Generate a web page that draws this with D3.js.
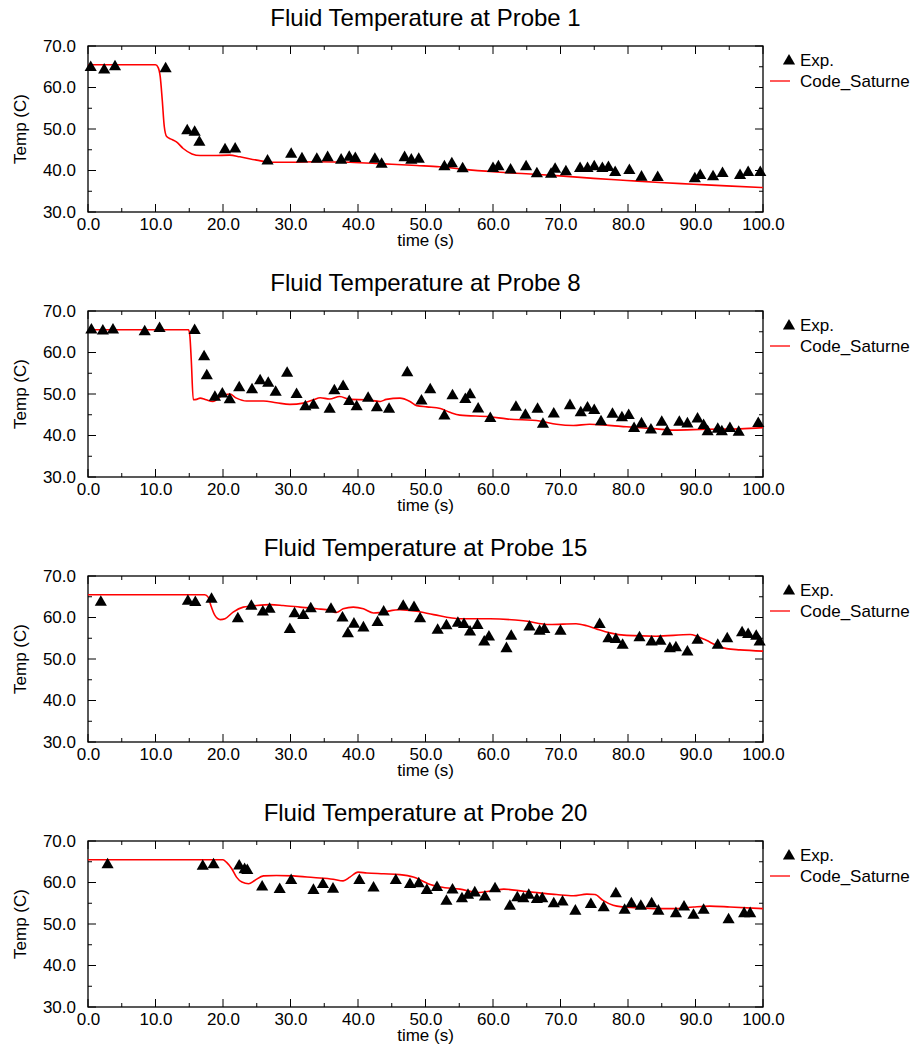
<!DOCTYPE html>
<html><head><meta charset="utf-8">
<script src="https://cdn.jsdelivr.net/npm/d3@7"></script>
<style>body{margin:0;background:#fff}svg{display:block}text{font-family:"Liberation Sans",Arial,sans-serif;fill:#000}</style>
</head><body><svg id="c" width="916" height="1048"></svg>
<script>
const titles = ["Fluid Temperature at Probe 1","Fluid Temperature at Probe 8","Fluid Temperature at Probe 15","Fluid Temperature at Probe 20"];
const xTicks = [0,10,20,30,40,50,60,70,80,90,100];
const yTicks = [30,40,50,60,70];
const legendLabels = ["Exp.","Code_Saturne"];

// Probe 1
const exp1T = [0.4,2.4,4.0,11.5,14.7,15.8,16.5,20.3,21.8,26.6,30.1,31.7,33.9,35.5,37.5,38.7,39.6,42.5,43.5,46.9,47.9,49.0,52.8,53.9,55.5,60.0,60.8,62.6,64.9,66.5,68.6,69.2,70.8,72.9,74.0,75.0,76.2,77.1,78.1,80.2,82.0,84.4,89.9,90.7,92.6,94.0,96.6,97.8,99.6];
const exp1V = [64.8,64.2,65.0,64.5,49.6,49.2,46.8,45.0,45.2,42.3,43.9,42.8,42.7,43.1,42.5,43.2,42.9,42.7,41.5,43.1,42.5,42.7,40.9,41.6,40.4,40.5,40.9,40.1,40.9,39.2,39.1,40.3,39.7,40.5,40.5,40.9,40.5,40.7,39.5,40.0,38.4,38.3,38.0,38.8,38.5,39.3,38.8,39.5,39.5];
const code1T = [0,10.0,10.4,10.7,11.0,11.3,11.65,12.4,13.1,14.1,15.4,16.6,18.6,21.0,22.5,25.0,27.0,29.9,33.9,38.8,43.8,48.7,52.1,55.1,60.0,64.9,69.9,74.9,79.8,84.7,89.7,94.6,100];
const code1V = [65.5,65.5,64.8,62.6,57.0,50.6,48.2,47.5,46.9,45.3,44.0,43.6,43.6,43.7,43.3,42.5,42.0,42.0,42.1,42.0,41.6,41.2,40.9,40.4,39.7,39.2,38.7,38.1,37.6,37.1,36.7,36.3,35.9];

// Probe 8
const exp2T = [0.5,2.2,3.7,8.4,10.6,15.8,17.2,17.6,18.8,19.9,21.0,22.4,24.3,25.5,26.7,27.8,29.5,30.9,32.2,33.4,35.8,36.5,37.8,38.7,39.8,41.5,42.8,44.6,47.3,49.4,50.7,52.8,54.0,55.9,56.6,57.8,59.6,63.4,64.8,66.6,67.4,69.0,71.4,73.0,74.0,75.0,76.0,77.7,79.1,80.1,80.9,82.0,83.4,85.0,85.8,87.6,88.8,90.3,91.2,91.8,93.3,93.9,95.1,96.4,99.3];
const exp2V = [65.4,65.2,65.4,65.0,65.8,65.3,59.0,54.4,49.2,50.0,48.6,51.5,51.0,53.2,52.6,50.4,55.0,49.9,46.9,47.3,46.3,50.8,51.8,48.2,46.9,49.0,46.7,46.3,55.1,48.3,51.0,44.7,49.6,48.7,49.8,46.4,44.1,46.8,44.9,46.3,42.7,45.2,47.2,45.5,46.6,46.0,43.3,45.1,44.3,44.8,41.7,42.8,41.3,43.2,40.9,43.2,42.8,44.0,42.4,40.9,41.5,40.9,41.7,40.8,42.9];
const code2T = [0,14.9,15.1,15.3,15.6,16.1,16.6,17.5,18.5,19.8,21.0,22.0,23.5,26.0,27.9,29.9,31.9,33.4,34.4,35.8,37.3,38.8,41.3,43.3,44.2,46.2,47.7,48.7,50.2,52.2,53.6,55.1,59.6,62.0,66.9,69.4,71.9,74.3,76.8,79.8,84.2,86.7,91.6,96.6,100];
const code2V = [65.5,65.5,63.8,58.2,48.6,48.7,49.0,48.6,48.2,49.5,50.0,49.0,48.3,48.3,47.9,47.5,47.8,48.6,49.1,48.8,49.4,48.7,48.6,48.2,48.7,49.0,48.2,47.2,46.9,46.5,45.6,44.9,44.5,44.0,43.5,42.7,42.4,42.7,42.5,42.1,41.6,41.3,41.5,41.6,41.9];

// Probe 15
const exp3T = [1.9,14.8,15.9,18.3,22.2,24.2,25.9,26.9,29.9,30.6,31.9,33.0,36.0,37.7,38.5,39.4,40.8,42.9,43.8,46.7,48.3,49.2,51.8,53.1,54.8,55.7,56.6,57.7,58.7,59.4,62.0,62.7,65.4,66.9,67.6,70.0,75.8,77.1,78.2,79.2,81.7,83.5,84.8,86.2,87.1,88.8,90.3,93.3,94.7,96.9,97.8,99.0,99.5];
const exp3V = [63.7,63.9,63.6,64.4,59.7,62.7,61.3,62.0,57.1,60.9,60.5,62.1,62.0,59.9,56.1,58.4,57.5,58.8,61.3,62.7,62.4,59.7,56.9,58.0,58.6,58.3,56.5,58.1,54.1,55.3,52.5,55.5,57.7,56.7,57.1,56.7,58.3,54.9,54.7,53.3,55.1,54.1,54.3,52.5,52.7,51.7,54.5,53.3,54.9,56.3,55.9,55.5,54.1];
const code3T = [0,17.3,17.8,18.2,18.8,19.6,20.3,21.5,23.0,25.0,27.0,28.9,31.4,33.9,35.9,36.8,37.8,39.3,40.8,42.3,43.3,46.2,48.7,51.2,55.1,59.6,64.5,68.4,72.3,73.9,75.4,77.3,79.8,84.2,89.2,90.2,91.6,93.1,94.6,96.6,100];
const code3V = [65.5,65.5,64.9,62.9,60.5,59.5,59.7,61.3,62.5,62.9,63.1,62.9,62.5,62.1,61.7,61.2,62.1,62.5,62.1,61.1,61.2,61.9,61.5,60.7,59.7,59.7,59.2,58.3,58.5,58.0,57.2,56.3,55.7,55.5,55.9,55.5,54.5,53.3,52.5,52.2,51.9];

// Probe 20
const exp4T = [2.9,17.0,18.6,22.4,23.2,23.6,25.8,28.4,30.1,33.4,34.8,36.3,40.2,42.3,45.6,47.7,49.0,50.2,51.7,53.1,54.0,55.4,56.3,57.3,58.8,60.3,62.5,63.6,64.5,65.3,66.5,67.3,69.0,70.3,72.2,74.5,76.4,78.2,79.5,80.5,81.9,83.5,84.5,87.1,88.3,89.7,91.2,94.9,97.2,98.1];
const exp4V = [64.3,63.9,64.3,64.0,63.1,62.9,58.9,58.3,60.5,58.1,59.5,58.4,60.5,58.7,60.5,59.5,59.7,58.1,58.8,55.5,58.2,56.1,56.9,57.5,56.5,58.5,54.3,56.3,56.1,56.9,55.9,56.1,54.9,55.3,53.1,54.7,53.9,57.3,53.3,54.9,54.3,54.9,53.1,52.5,54.1,52.1,53.3,51.0,52.5,52.5];
const code4T = [0,20.0,20.5,21.3,22.0,22.8,23.8,24.7,26.0,27.9,30.4,33.4,36.3,37.8,38.8,40.0,41.3,43.8,46.2,48.2,49.4,50.7,52.2,55.1,57.7,60.2,61.6,64.5,66.9,69.4,71.9,73.9,75.1,76.3,77.8,79.3,81.8,84.2,86.7,89.7,92.1,95.1,100];
const code4V = [65.5,65.5,64.9,63.3,61.3,60.1,59.7,60.5,61.6,61.7,61.6,61.2,60.8,60.4,61.3,62.5,62.3,62.1,61.9,61.3,60.5,59.5,58.9,58.4,57.6,58.1,58.4,57.9,57.5,57.1,56.8,57.2,57.1,55.7,54.5,54.1,53.9,53.7,53.7,54.1,54.3,54.1,53.7];

const expT = [exp1T,exp2T,exp3T,exp4T], expV = [exp1V,exp2V,exp3V,exp4V];
const codeT = [code1T,code2T,code3T,code4T], codeV = [code1V,code2V,code3V,code4V];

const svg = d3.select("#c");
const left = 88, right = 763, plotH = 166, firstTop = 46, step = 265;
const x = d3.scaleLinear().domain([0,100]).range([left,right]);
const fmt = d3.format(".1f");
const tri = d3.symbol(d3.symbolTriangle).size(64);

titles.forEach((title,i)=>{
  const top = firstTop + i*step;
  const y = d3.scaleLinear().domain([30,70]).range([top+plotH, top]);
  const g = svg.append("g");

  g.append("text").attr("x",(left+right)/2).attr("y",top-20).attr("text-anchor","middle")
    .style("font-size","24px").text(title);

  const xt = d3.range(0,101,5), yt = d3.range(30,71,5);
  const tk = g.append("g").attr("stroke","#000").attr("stroke-width",1);
  xt.forEach(v=>{
    const L = v%10===0 ? 8 : 4;
    tk.append("line").attr("x1",x(v)).attr("x2",x(v)).attr("y1",top+plotH).attr("y2",top+plotH-L);
    tk.append("line").attr("x1",x(v)).attr("x2",x(v)).attr("y1",top).attr("y2",top+L);
  });
  yt.forEach(v=>{
    const L = v%10===0 ? 8 : 4;
    tk.append("line").attr("x1",left).attr("x2",left+L).attr("y1",y(v)).attr("y2",y(v));
    tk.append("line").attr("x1",right).attr("x2",right-L).attr("y1",y(v)).attr("y2",y(v));
  });

  const ax = g.append("g").attr("transform",`translate(0,${top+plotH})`)
    .call(d3.axisBottom(x).tickValues(xTicks).tickFormat(fmt).tickSize(0).tickPadding(6));
  ax.select(".domain").remove();
  ax.selectAll("text").style("font-size","17px").style("font-family","Liberation Sans, Arial, sans-serif").attr("fill","#000");
  const ay = g.append("g").attr("transform",`translate(${left},0)`)
    .call(d3.axisLeft(y).tickValues(yTicks).tickFormat(fmt).tickSize(0).tickPadding(12));
  ay.select(".domain").remove();
  ay.selectAll("text").style("font-size","17px").style("font-family","Liberation Sans, Arial, sans-serif").attr("fill","#000");

  g.append("rect").attr("x",left).attr("y",top).attr("width",right-left).attr("height",plotH)
    .attr("fill","none").attr("stroke","#000").attr("stroke-width",1.3);

  g.append("text").attr("x",(left+right)/2).attr("y",top+plotH+34).attr("text-anchor","middle")
    .style("font-size","17px").text("time (s)");
  g.append("text").attr("transform",`translate(26,${top+plotH/2}) rotate(-90)`).attr("text-anchor","middle")
    .style("font-size","17px").text("Temp (C)");

  const pts = codeT[i].map((t,k)=>[t,codeV[i][k]]);
  g.append("path").datum(pts).attr("fill","none").attr("stroke","#ff0000").attr("stroke-width",1.6)
    .attr("d",d3.line().x(d=>x(d[0])).y(d=>y(d[1])).curve(d3.curveMonotoneX));

  g.selectAll(".p").data(expT[i].map((t,k)=>[t,expV[i][k]])).enter().append("path")
    .attr("d",tri).attr("fill","#000").attr("transform",d=>`translate(${x(d[0])},${y(d[1])})`);

  g.append("path").attr("d",tri).attr("fill","#000").attr("transform",`translate(789,${top+15})`);
  g.append("text").attr("x",800).attr("y",top+20).style("font-size","17px").text(legendLabels[0]);
  g.append("line").attr("x1",770).attr("x2",790).attr("y1",top+35).attr("y2",top+35).attr("stroke","#ff0000").attr("stroke-width",1.3);
  g.append("text").attr("x",800).attr("y",top+41).style("font-size","17px").text(legendLabels[1]);
});
</script></body></html>
